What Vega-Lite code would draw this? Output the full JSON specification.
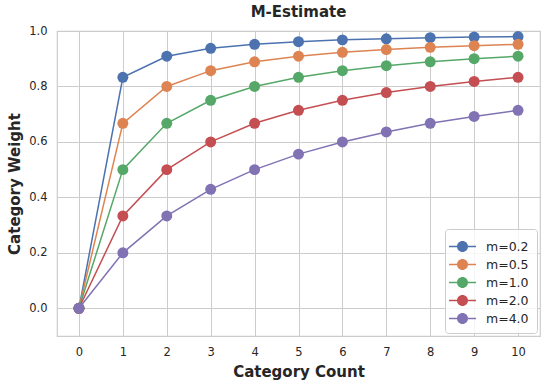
{
  "$schema": "https://vega.github.io/schema/vega-lite/v6.json",
  "autosize": {"type": "none"},
  "padding": {"left": 57, "top": 31, "right": 7, "bottom": 51},
  "width": 483,
  "height": 305,
  "background": "white",
  "title": {"text": "M-Estimate", "font": "DejaVu Sans", "fontSize": 15, "fontWeight": "bold", "color": "#262626", "offset": 5, "anchor": "middle"},
  "config": {
    "font": "DejaVu Sans",
    "view": {"stroke": "#cccccc", "strokeWidth": 1.2},
    "axis": {
      "grid": true, "gridColor": "#cccccc", "gridWidth": 1,
      "domain": false, "ticks": false, "tickSize": 0,
      "labelFont": "DejaVu Sans", "labelFontSize": 11.5, "labelColor": "#262626", "labelPadding": 10,
      "titleFont": "DejaVu Sans", "titleFontSize": 15, "titleFontWeight": "bold", "titleColor": "#262626"
    },
    "legend": {
      "labelFont": "DejaVu Sans", "labelFontSize": 12.5, "labelColor": "#262626"
    }
  },
  "data": {"values": [
    {"m": "m=0.2", "n": 0, "w": 0}, {"m": "m=0.2", "n": 1, "w": 0.833}, {"m": "m=0.2", "n": 2, "w": 0.909}, {"m": "m=0.2", "n": 3, "w": 0.9375}, {"m": "m=0.2", "n": 4, "w": 0.952}, {"m": "m=0.2", "n": 5, "w": 0.9615}, {"m": "m=0.2", "n": 6, "w": 0.968}, {"m": "m=0.2", "n": 7, "w": 0.972}, {"m": "m=0.2", "n": 8, "w": 0.976}, {"m": "m=0.2", "n": 9, "w": 0.978}, {"m": "m=0.2", "n": 10, "w": 0.980},
    {"m": "m=0.5", "n": 0, "w": 0}, {"m": "m=0.5", "n": 1, "w": 0.667}, {"m": "m=0.5", "n": 2, "w": 0.8}, {"m": "m=0.5", "n": 3, "w": 0.857}, {"m": "m=0.5", "n": 4, "w": 0.889}, {"m": "m=0.5", "n": 5, "w": 0.909}, {"m": "m=0.5", "n": 6, "w": 0.923}, {"m": "m=0.5", "n": 7, "w": 0.933}, {"m": "m=0.5", "n": 8, "w": 0.941}, {"m": "m=0.5", "n": 9, "w": 0.947}, {"m": "m=0.5", "n": 10, "w": 0.952},
    {"m": "m=1.0", "n": 0, "w": 0}, {"m": "m=1.0", "n": 1, "w": 0.5}, {"m": "m=1.0", "n": 2, "w": 0.667}, {"m": "m=1.0", "n": 3, "w": 0.75}, {"m": "m=1.0", "n": 4, "w": 0.8}, {"m": "m=1.0", "n": 5, "w": 0.833}, {"m": "m=1.0", "n": 6, "w": 0.857}, {"m": "m=1.0", "n": 7, "w": 0.875}, {"m": "m=1.0", "n": 8, "w": 0.889}, {"m": "m=1.0", "n": 9, "w": 0.9}, {"m": "m=1.0", "n": 10, "w": 0.909},
    {"m": "m=2.0", "n": 0, "w": 0}, {"m": "m=2.0", "n": 1, "w": 0.333}, {"m": "m=2.0", "n": 2, "w": 0.5}, {"m": "m=2.0", "n": 3, "w": 0.6}, {"m": "m=2.0", "n": 4, "w": 0.667}, {"m": "m=2.0", "n": 5, "w": 0.714}, {"m": "m=2.0", "n": 6, "w": 0.75}, {"m": "m=2.0", "n": 7, "w": 0.778}, {"m": "m=2.0", "n": 8, "w": 0.8}, {"m": "m=2.0", "n": 9, "w": 0.818}, {"m": "m=2.0", "n": 10, "w": 0.833},
    {"m": "m=4.0", "n": 0, "w": 0}, {"m": "m=4.0", "n": 1, "w": 0.2}, {"m": "m=4.0", "n": 2, "w": 0.333}, {"m": "m=4.0", "n": 3, "w": 0.429}, {"m": "m=4.0", "n": 4, "w": 0.5}, {"m": "m=4.0", "n": 5, "w": 0.556}, {"m": "m=4.0", "n": 6, "w": 0.6}, {"m": "m=4.0", "n": 7, "w": 0.636}, {"m": "m=4.0", "n": 8, "w": 0.667}, {"m": "m=4.0", "n": 9, "w": 0.692}, {"m": "m=4.0", "n": 10, "w": 0.714}
  ]},
  "encoding": {
    "x": {"field": "n", "type": "quantitative", "title": "Category Count",
          "scale": {"domain": [-0.5, 10.5], "nice": false, "zero": false},
          "axis": {"values": [0,1,2,3,4,5,6,7,8,9,10], "format": "d", "titlePadding": 7}},
    "y": {"field": "w", "type": "quantitative", "title": "Category Weight",
          "scale": {"domain": [-0.1, 1.0], "nice": false, "zero": false},
          "axis": {"values": [0, 0.2, 0.4, 0.6, 0.8, 1.0], "format": ".1f", "titlePadding": 6}},
    "color": {"field": "m", "type": "nominal",
              "scale": {"domain": ["m=0.2", "m=0.5", "m=1.0", "m=2.0", "m=4.0"],
                        "range": ["#4c72b0", "#dd8452", "#55a868", "#c44e52", "#8172b3"]},
              "legend": {"title": null, "orient": "bottom-right", "offset": 3,
                   "symbolType": "M-1.42,-0.08L-0.55,-0.08L-0.55,0.08L-1.42,0.08Z M0.55,-0.08L1.42,-0.08L1.42,0.08L0.55,0.08Z M0.58,0A0.58,0.58 0 1,1 -0.58,0A0.58,0.58 0 1,1 0.58,0Z",
                   "symbolSize": 361, "symbolStrokeWidth": 0, "symbolOpacity": 1,
                   "rowPadding": 2, "labelOffset": 14, "padding": 8,
                   "fillColor": "rgba(255,255,255,0.8)", "strokeColor": "#cccccc", "cornerRadius": 3}}
  },
  "layer": [
    {"mark": {"type": "line", "strokeWidth": 1.5}},
    {"mark": {"type": "point", "filled": true, "size": 120, "opacity": 1, "shape": "circle"}}
  ]
}
